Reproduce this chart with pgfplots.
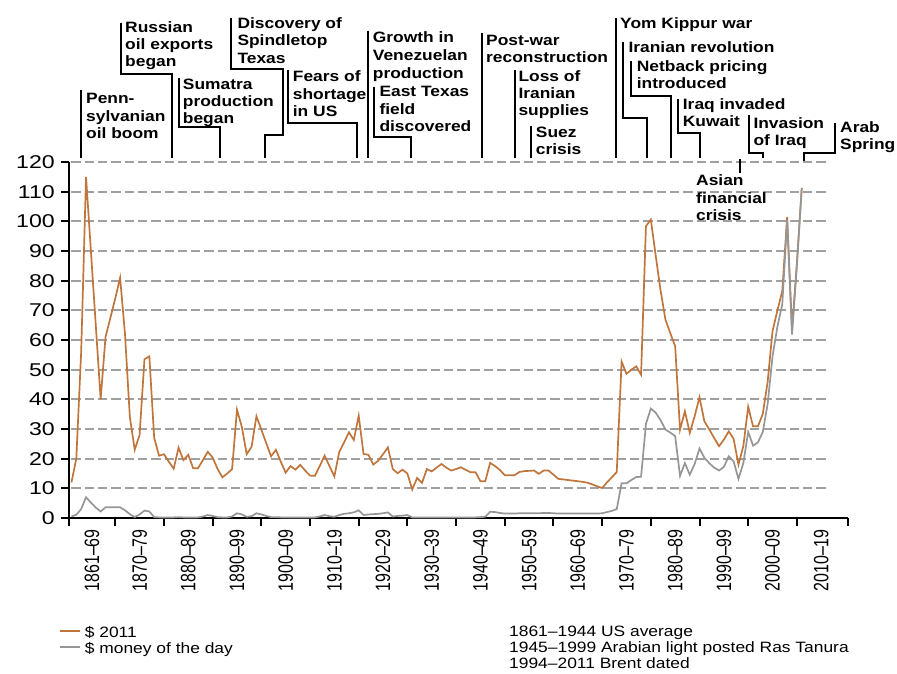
\documentclass[border=0pt]{standalone}
\usepackage{pgfplots}
\pgfplotsset{compat=1.18}
\usepackage{pgfplotstable}
\usepackage{graphicx}
\usepackage{fontspec}
\setmainfont{Liberation Sans}[FakeStretch=1.16]
\newfontfamily\plainsans{Liberation Sans}
\newfontfamily\tickfont{Liberation Sans}[FakeStretch=1.25]
\newcommand{\rl}[1]{\scalebox{1}[1.3]{#1}}
\definecolor{oilorange}{RGB}{192,117,60}
\definecolor{oilgray}{RGB}{150,150,150}
\definecolor{gridgray}{RGB}{160,160,160}

% year, $ 2011, $ money of the day
\pgfplotstableread{
year real nominal
1861 12.0 0.5
1862 20.0 1.1
1863 56.0 3.0
1864 115.0 7.0
1865 90.0 5.2
1866 65.0 3.5
1867 40.0 2.2
1868 61.0 3.6
1869 67.5 3.6
1870 74.0 3.6
1871 81.0 3.6
1872 62.0 2.6
1873 34.0 1.3
1874 23.0 0.3
1875 28.0 1.2
1876 53.5 2.5
1877 54.5 2.2
1878 27.0 0.3
1879 21.0 0.2
1880 21.5 0.2
1881 19.0 0.2
1882 16.6 0.2
1883 23.7 0.3
1884 19.5 0.2
1885 21.3 0.2
1886 16.8 0.2
1887 16.8 0.2
1888 19.5 0.5
1889 22.3 1.0
1890 20.4 0.7
1891 16.6 0.3
1892 13.7 0.2
1893 15.0 0.2
1894 16.5 0.5
1895 36.5 1.6
1896 30.7 1.2
1897 21.5 0.4
1898 24.0 0.6
1899 34.3 1.6
1900 29.8 1.2
1901 25.3 0.7
1902 20.8 0.3
1903 23.0 0.3
1904 19.0 0.2
1905 15.3 0.2
1906 17.5 0.2
1907 16.3 0.2
1908 17.9 0.2
1909 16.0 0.2
1910 14.3 0.2
1911 14.2 0.2
1912 17.5 0.5
1913 21.0 1.0
1914 17.5 0.6
1915 14.0 0.4
1916 22.2 1.0
1917 25.5 1.4
1918 28.9 1.6
1919 26.3 1.9
1920 34.5 2.6
1921 21.6 1.0
1922 21.3 1.2
1923 18.0 1.3
1924 19.3 1.4
1925 21.5 1.6
1926 23.8 1.9
1927 16.5 0.5
1928 15.1 0.7
1929 16.3 0.8
1930 15.0 1.0
1931 9.6 0.2
1932 13.5 0.2
1933 11.8 0.2
1934 16.5 0.2
1935 15.7 0.2
1936 17.0 0.2
1937 18.2 0.2
1938 17.0 0.2
1939 16.0 0.2
1940 16.5 0.2
1941 17.1 0.2
1942 16.2 0.2
1943 15.4 0.2
1944 15.4 0.2
1945 12.4 0.3
1946 12.4 0.4
1947 18.6 2.1
1948 17.5 2.0
1949 16.2 1.7
1950 14.4 1.5
1951 14.4 1.5
1952 14.4 1.5
1953 15.5 1.6
1954 15.8 1.6
1955 15.9 1.6
1956 16.0 1.6
1957 14.9 1.6
1958 16.0 1.7
1959 16.0 1.7
1960 14.6 1.6
1961 13.2 1.5
1962 13.0 1.5
1963 12.8 1.5
1964 12.6 1.5
1965 12.4 1.5
1966 12.2 1.5
1967 11.9 1.5
1968 11.3 1.5
1969 10.7 1.5
1970 10.1 1.6
1971 12.0 2.0
1972 13.7 2.4
1973 15.5 3.0
1974 52.7 11.7
1975 48.6 11.7
1976 50.0 12.8
1977 51.1 13.8
1978 48.3 13.9
1979 98.4 31.7
1980 100.6 36.9
1981 88.5 35.5
1982 76.7 33.0
1983 66.9 29.8
1984 62.3 28.8
1985 57.9 27.6
1986 29.8 14.2
1987 36.0 18.5
1988 28.7 14.6
1989 34.3 18.2
1990 40.7 23.4
1991 32.6 20.3
1992 29.9 18.5
1993 27.0 17.0
1994 24.2 16.0
1995 26.4 17.2
1996 29.2 20.8
1997 26.7 19.1
1998 18.0 13.2
1999 24.2 18.5
2000 37.5 29.0
2001 30.9 24.4
2002 30.9 25.5
2003 35.1 29.0
2004 46.0 38.5
2005 63.0 54.5
2006 70.0 64.5
2007 76.5 72.0
2008 101.5 100.5
2009 63.5 61.8
2010 86.0 85.0
2011 111.3 111.3
}\oilprices

\begin{document}
\begin{tikzpicture}
\useasboundingbox (0,0) rectangle (897pt,673pt);
\begin{axis}[
  at={(69pt,155pt)}, anchor=south west,
  scale only axis, width=779pt, height=356pt,
  xmin=1860.5, xmax=2020.5, ymin=0, ymax=120,
  axis x line*=bottom, axis y line*=left,
  axis line style={line width=2.2pt, black},
  tick style={line width=2pt, black},
  tick align=outside, major tick length=8pt,
  xtick={1860.5,1870,1880,1890,1900,1910,1920,1930,1940,1950,1960,1970,1980,1990,2000,2010,2020.5},
  xticklabels={},
  extra x ticks={1865.2,1875,1885,1895,1905,1915,1925,1935,1945,1955,1965,1975,1985,1995,2005,2015},
  extra x tick labels={\rl{1861–69},\rl{1870–79},\rl{1880–89},\rl{1890–99},\rl{1900–09},\rl{1910–19},\rl{1920–29},\rl{1930–39},\rl{1940–49},\rl{1950–59},\rl{1960–69},\rl{1970–79},\rl{1980–89},\rl{1990–99},\rl{2000–09},\rl{2010–19}},
  extra x tick style={major tick length=0pt,
    xticklabel style={yshift=-11pt, rotate=90, anchor=east, inner sep=0pt,
      font=\plainsans\fontsize{16}{16}\selectfont}},
  ytick={0,10,...,120},
  /pgf/number format/assume math mode=true,
  yticklabel style={font=\tickfont\fontsize{18.5}{18.5}\selectfont, anchor=east, inner sep=0pt, xshift=-6pt},
]
\pgfplotsinvokeforeach{10,20,...,120}{
  \draw[gridgray, line width=2pt, dash pattern=on 9.3pt off 4pt]
    (axis cs:1861,#1) -- (axis cs:2016.4,#1);
}
\addplot[oilorange, line width=1.7pt] table[x=year, y=real] {\oilprices};
\addplot[oilgray, line width=1.7pt] table[x=year, y=nominal] {\oilprices};
\end{axis}

\begin{scope}[x=1pt, y=-1pt, shift={(0pt,673pt)},
  ann/.style={line width=2pt, black},
  lbl/.style={anchor=base west, inner sep=0pt, font=\bfseries\fontsize{15}{17}\selectfont},
  leg/.style={anchor=base west, inner sep=0pt, font=\fontsize{15}{16}\selectfont}]
% Pennsylvanian oil boom
\draw[ann] (80.7,90) -- (80.7,158);
\node[lbl] at (86,104) {Penn-};
\node[lbl] at (86,121.7) {sylvanian};
\node[lbl] at (86,138.5) {oil boom};
% Russian oil exports
\draw[ann] (120.7,22.7) -- (120.7,74) -- (171.7,74) -- (171.7,158);
\node[lbl] at (125,32.3) {Russian};
\node[lbl] at (125,50) {oil exports};
\node[lbl] at (125,66.7) {began};
% Sumatra
\draw[ann] (179.3,78.3) -- (179.3,126.7) -- (220,126.7) -- (220,158);
\node[lbl] at (182.7,89.3) {Sumatra};
\node[lbl] at (182.7,106.8) {production};
\node[lbl] at (182.7,124) {began};
% Spindletop
\draw[ann] (231,18.3) -- (231,69.3) -- (282.7,69.3) -- (282.7,135) -- (265,135) -- (265,158);
\node[lbl] at (237.3,28.3) {Discovery of};
\node[lbl] at (237.3,45.7) {Spindletop};
\node[lbl] at (237.3,63.3) {Texas};
% Fears of shortage
\draw[ann] (288.3,70) -- (288.3,122.7) -- (356.7,122.7) -- (356.7,158);
\node[lbl] at (292.7,81.7) {Fears of};
\node[lbl] at (292.7,99.3) {shortage};
\node[lbl] at (292.7,116.7) {in US};
% Venezuela
\draw[ann] (368.3,30.7) -- (368.3,158);
\node[lbl] at (372.7,43) {Growth in};
\node[lbl] at (372.7,60.7) {Venezuelan};
\node[lbl] at (372.7,78.3) {production};
% East Texas
\draw[ann] (374,86.7) -- (374,136.7) -- (410.7,136.7) -- (410.7,158);
\node[lbl] at (379.3,96.7) {East Texas};
\node[lbl] at (379.3,114.3) {field};
\node[lbl] at (379.3,131.7) {discovered};
% Post-war
\draw[ann] (482.3,32.7) -- (482.3,158);
\node[lbl] at (486,45.2) {Post-war};
\node[lbl] at (486,62.8) {reconstruction};
% Loss of Iranian supplies
\draw[ann] (515,70) -- (515,158);
\node[lbl] at (518.3,81.5) {Loss of};
\node[lbl] at (518.3,99) {Iranian};
\node[lbl] at (518.3,116) {supplies};
% Suez
\draw[ann] (531,126) -- (531,158);
\node[lbl] at (535.7,137.4) {Suez};
\node[lbl] at (535.7,155) {crisis};
% Yom Kippur
\draw[ann] (616,18.3) -- (616,158);
\node[lbl] at (620,28.5) {Yom Kippur war};
% Iranian revolution
\draw[ann] (623.3,41.7) -- (623.3,118.3) -- (646.7,118.3) -- (646.7,158);
\node[lbl] at (628.3,53) {Iranian revolution};
% Netback
\draw[ann] (631,61) -- (631,96) -- (670.7,96) -- (670.7,158);
\node[lbl] at (636.7,71.6) {Netback pricing};
\node[lbl] at (636.7,89) {introduced};
% Iraq invaded Kuwait
\draw[ann] (677.7,99.3) -- (677.7,133.3) -- (700,133.3) -- (700,158);
\node[lbl] at (682.7,109.2) {Iraq invaded};
\node[lbl] at (682.7,126.7) {Kuwait};
% Asian financial crisis
\draw[ann] (740,159.3) -- (740,173.3);
\node[lbl] at (696,186) {Asian};
\node[lbl] at (696,203.3) {financial};
\node[lbl] at (696,220.7) {crisis};
% Invasion of Iraq
\draw[ann] (749,115) -- (749,152.7) -- (763.3,152.7) -- (763.3,158.3);
\node[lbl] at (753.3,128.3) {Invasion};
\node[lbl] at (753.3,146) {of Iraq};
% Arab Spring
\draw[ann] (835,123.3) -- (835,153.3) -- (804,153.3) -- (804,160.7);
\node[lbl] at (840,132.5) {Arab};
\node[lbl] at (840,150) {Spring};

% legend
\draw[oilorange, line width=2pt] (60,631) -- (80,631);
\draw[oilgray, line width=2pt] (60,647) -- (80,647);
\node[leg] at (84.7,637) {\$ 2011};
\node[leg] at (84.7,653) {\$ money of the day};
\node[leg] at (509,636.7) {1861–1944 US average};
\node[leg] at (509,652.5) {1945–1999 Arabian light posted Ras Tanura};
\node[leg] at (509,668.3) {1994–2011 Brent dated};
\end{scope}
\end{tikzpicture}
\end{document}
